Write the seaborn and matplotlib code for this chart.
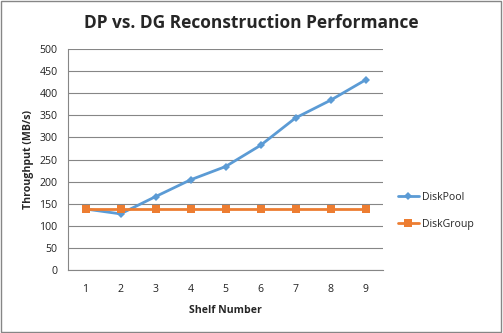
import matplotlib
matplotlib.use("Agg")
import matplotlib.pyplot as plt
from matplotlib.patches import Rectangle
import seaborn as sns
import pandas as pd
import numpy as np

shelves = [1, 2, 3, 4, 5, 6, 7, 8, 9]
diskpool = [138, 127, 166, 204, 234, 282, 344, 384, 430]
diskgroup = [139, 139, 139, 139, 139, 139, 139, 139, 139]
yticks = [0, 50, 100, 150, 200, 250, 300, 350, 400, 450, 500]

df = pd.DataFrame({
    "Shelf": shelves * 2,
    "Throughput": diskpool + diskgroup,
    "Series": ["DiskPool"] * len(shelves) + ["DiskGroup"] * len(shelves),
})

sns.set_style("white")
plt.rcParams['font.family'] = ['Open Sans', 'DejaVu Sans']

fig = plt.figure(figsize=(5.03, 3.33), dpi=100)
ax = fig.add_axes([68/503, 1-270/333, (383-68)/503, (270-49)/333])

palette = {"DiskPool": "#5B9BD5", "DiskGroup": "#ED7D31"}
sns.lineplot(data=df, x="Shelf", y="Throughput", hue="Series", style="Series",
             markers={"DiskPool": "D", "DiskGroup": "s"}, dashes=False,
             palette=palette, ax=ax, linewidth=2,
             markersize=4.5, markeredgewidth=0)
for line in ax.get_lines():
    if line.get_marker() == "D":
        line.set_markersize(4)
    elif line.get_marker() == "s":
        line.set_markersize(6)

ax.set_xlim(0.5, 9.5)
ax.set_ylim(0, 500)
ax.set_yticks(yticks)
ax.set_xticks(shelves)
ax.set_xticks(np.arange(0.5, 10, 1), minor=True)
ax.tick_params(axis="x", which="major", length=0, labelsize=7.6, pad=10, labelcolor="#222222")
ax.tick_params(axis="x", which="minor", length=4, color="#868686", width=0.8)
ax.tick_params(axis="y", which="major", length=4, color="#868686", width=0.8, labelsize=7.6,
               labelcolor="#222222")
ax.yaxis.grid(True, color="#868686", linewidth=0.8)
ax.xaxis.grid(False)
for s in ["top", "right"]:
    ax.spines[s].set_visible(False)
for s in ["left", "bottom"]:
    ax.spines[s].set_color("#868686")
    ax.spines[s].set_linewidth(0.8)

ax.set_xlabel("Shelf Number", fontsize=7.6, fontweight="bold", labelpad=7)
ax.set_ylabel("Throughput (MB/s)", fontsize=7.6, fontweight="bold", labelpad=4)
fig.suptitle("DP vs. DG Reconstruction Performance", x=0.5, y=1-23/333, va="center",
             fontsize=12.5, fontweight="bold")

handles, labels = ax.get_legend_handles_labels()
ax.legend(handles, labels, loc="center left", bbox_to_anchor=(388/503, 1-211/333),
          bbox_transform=fig.transFigure, frameon=False, fontsize=7.6,
          handlelength=2.0, handletextpad=0.3, labelspacing=1.5)

fig.patches.append(Rectangle((0.002, 0.003), 0.995, 0.994, transform=fig.transFigure,
                             fill=False, edgecolor="#868686", linewidth=1))
fig.savefig("out.png", dpi=100)
